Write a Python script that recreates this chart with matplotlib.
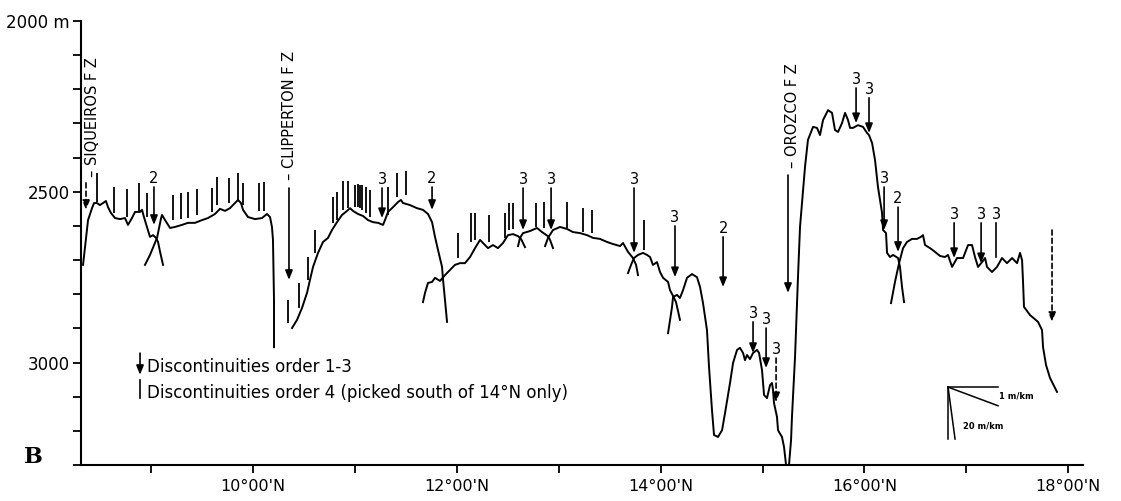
import matplotlib
matplotlib.use("Agg")
import matplotlib.pyplot as plt
import numpy as np

# ---------------- data: bathymetric profile segments (latitude °N, depth m) -------------
seg1a_lat = [8.332, 8.381, 8.420, 8.440, 8.469, 8.498, 8.528, 8.557, 8.577, 8.606, 8.646, 8.695, 8.744,
             8.773, 8.812, 8.842, 8.891, 8.911, 8.930, 8.959, 8.989, 9.019, 9.048, 9.068, 9.088, 9.117]
seg1a_depth = [2714, 2583, 2548, 2533, 2533, 2539, 2533, 2527, 2545, 2562, 2577, 2580, 2577,
               2597, 2577, 2559, 2559, 2553, 2574, 2603, 2632, 2627, 2635, 2647, 2676, 2714]

seg1b_lat = [8.940, 8.989, 9.029, 9.058, 9.078, 9.098, 9.107, 9.137, 9.186, 9.235, 9.303, 9.362, 9.431,
             9.499, 9.558, 9.627, 9.676, 9.725, 9.774, 9.823, 9.853, 9.882, 9.902, 9.951, 10.020, 10.088,
             10.137, 10.167, 10.186, 10.196, 10.206, 10.206]
seg1b_depth = [2714, 2685, 2656, 2635, 2606, 2577, 2568, 2583, 2606, 2603, 2597, 2591, 2591,
               2583, 2577, 2565, 2550, 2556, 2548, 2533, 2524, 2533, 2553, 2574, 2580, 2577,
               2565, 2574, 2603, 2641, 2817, 2955]

seg2_lat = [10.383, 10.432, 10.481, 10.530, 10.559, 10.589, 10.638, 10.687, 10.736, 10.775, 10.824,
            10.873, 10.923, 10.952, 10.981, 11.030, 11.080, 11.129, 11.178, 11.227, 11.276, 11.295,
            11.325, 11.374, 11.423, 11.452, 11.472, 11.541, 11.609, 11.668, 11.717, 11.757, 11.786,
            11.816, 11.855, 11.865, 11.884, 11.904]
seg2_depth = [2899, 2875, 2840, 2796, 2758, 2720, 2679, 2647, 2635, 2612, 2589,
              2568, 2556, 2548, 2556, 2565, 2571, 2583, 2589, 2591, 2597, 2583,
              2559, 2545, 2530, 2524, 2533, 2539, 2548, 2553, 2565, 2589, 2632,
              2671, 2720, 2758, 2817, 2881]

seg3a_lat = [11.668, 11.688, 11.717, 11.757, 11.786, 11.835, 11.884, 11.933, 11.982, 12.031, 12.080,
             12.130, 12.179, 12.228, 12.257, 12.306, 12.355, 12.404, 12.453, 12.502, 12.552, 12.601,
             12.630, 12.669]
seg3a_depth = [2823, 2796, 2767, 2764, 2752, 2761, 2744, 2729, 2714, 2709, 2709,
               2691, 2665, 2641, 2650, 2665, 2656, 2665, 2650, 2627, 2624, 2630,
               2638, 2662]

seg3b_lat = [12.601, 12.620, 12.650, 12.718, 12.787, 12.836, 12.895, 12.915, 12.944]
seg3b_depth = [2659, 2635, 2621, 2615, 2606, 2618, 2630, 2641, 2665]

seg3c_lat = [12.866, 12.895, 12.944, 13.013, 13.082, 13.140, 13.209, 13.278, 13.337, 13.405, 13.474,
             13.533, 13.602, 13.631, 13.680, 13.729, 13.759, 13.778]
seg3c_depth = [2659, 2635, 2612, 2603, 2609, 2618, 2621, 2627, 2635, 2638, 2647,
               2653, 2659, 2650, 2676, 2694, 2714, 2744]

seg3d_lat = [13.680, 13.710, 13.739, 13.778, 13.827, 13.867, 13.896, 13.925, 13.965, 13.994, 14.024,
             14.073, 14.092, 14.122, 14.151, 14.190]
seg3d_depth = [2738, 2714, 2694, 2685, 2679, 2685, 2691, 2714, 2706, 2735, 2752,
               2764, 2788, 2805, 2823, 2875]

seg4_lat = [14.073, 14.112, 14.122, 14.161, 14.190, 14.220, 14.259, 14.308, 14.357, 14.387,
            14.416, 14.455, 14.475, 14.504, 14.524, 14.563, 14.603, 14.632, 14.681, 14.711,
            14.750, 14.779, 14.809, 14.828, 14.848, 14.877, 14.907, 14.946, 14.966, 14.995,
            15.015, 15.044, 15.074, 15.093, 15.103, 15.113, 15.142, 15.152, 15.191, 15.211,
            15.231, 15.260, 15.280, 15.289, 15.319, 15.348, 15.368, 15.417, 15.446, 15.496,
            15.535, 15.564, 15.594, 15.643, 15.682, 15.711, 15.741, 15.780, 15.810, 15.839,
            15.859, 15.888, 15.937, 15.986, 16.026, 16.045, 16.075, 16.104, 16.133, 16.173,
            16.183, 16.212, 16.222, 16.251, 16.281, 16.330, 16.349, 16.369, 16.389]
seg4_depth = [2914, 2837, 2808, 2802, 2811, 2788, 2752, 2741, 2750, 2779,
              2826, 2905, 3013, 3139, 3212, 3218, 3198, 3148, 3060, 3001,
              2963, 2957, 2972, 2993, 2978, 2990, 2972, 2963, 2972, 3022,
              3095, 3104, 3066, 3060, 3080, 3119, 3159, 3198, 3218, 3247,
              3300, 3300, 3227, 3159, 2984, 2750, 2603, 2427, 2348, 2310,
              2313, 2334, 2290, 2261, 2269, 2319, 2325, 2299, 2269, 2290,
              2313, 2313, 2305, 2310, 2328, 2334, 2357, 2407, 2486, 2562,
              2612, 2621, 2679, 2691, 2685, 2694, 2720, 2779, 2823]

seg5_lat = [16.261, 16.300, 16.340, 16.379, 16.418, 16.467, 16.516, 16.555, 16.575, 16.595,
            16.644, 16.693, 16.742, 16.791, 16.820, 16.860, 16.909, 16.968, 17.017, 17.056,
            17.085, 17.115, 17.154, 17.184, 17.203, 17.252, 17.301, 17.350, 17.399, 17.449,
            17.498, 17.527, 17.547, 17.557, 17.566, 17.625, 17.704, 17.743, 17.753, 17.782,
            17.821, 17.890]
seg5_depth = [2826, 2764, 2709, 2665, 2647, 2638, 2638, 2632, 2627, 2656,
              2665, 2676, 2688, 2691, 2685, 2720, 2694, 2694, 2656, 2656,
              2691, 2720, 2706, 2694, 2720, 2735, 2720, 2694, 2709, 2694,
              2709, 2679, 2700, 2767, 2837, 2861, 2881, 2905, 2955, 3007,
              3045, 3086]

# ---------------- discontinuities of order 1-3 (arrows) ----------------
arrow_lat = [8.361, 9.028, 10.353, 11.266, 11.757, 12.650, 12.925, 13.739, 14.141, 14.613, 15.250,
             14.907, 15.035, 15.133, 15.918, 16.045, 16.193, 16.330, 16.880, 17.145, 17.292, 17.841]
arrow_top = [2474, 2486, 2489, 2489, 2486, 2489, 2489, 2489, 2600, 2632, 2451,
             2881, 2899, 2987, 2196, 2225, 2486, 2545, 2591, 2591, 2591, 2612]
arrow_bottom = [2553, 2597, 2758, 2577, 2553, 2612, 2612, 2679, 2750, 2779, 2796,
                2972, 3016, 3116, 2299, 2328, 2612, 2676, 2694, 2709, 2691, 2881]
arrow_order = ['', '2', '', '3', '2', '3', '3', '3', '3', '2', '',
               '3', '3', '3', '3', '3', '3', '2', '3', '3', '3', '']

# ---------------- discontinuities of order 4 (plain bars) ----------------
o4_lat = [8.469, 8.636, 8.763, 8.881, 8.960, 9.215, 9.293, 9.362, 9.450, 9.598, 9.647, 9.764, 9.853,
          9.902, 10.059, 10.108, 10.343, 10.451, 10.540, 10.608, 10.785, 10.824, 10.883, 10.932,
          11.001, 11.030, 11.050, 11.070, 11.109, 11.148, 11.325, 11.413, 11.502, 12.012, 12.139,
          12.179, 12.316, 12.473, 12.512, 12.552, 12.777, 12.856, 13.082, 13.239, 13.327, 13.837]
o4_top = [2445, 2486, 2492, 2474, 2504, 2509, 2504, 2501, 2492, 2489, 2457, 2460, 2445,
          2474, 2474, 2471, 2817, 2767, 2691, 2612, 2515, 2501, 2468, 2468,
          2480, 2477, 2480, 2480, 2486, 2495, 2486, 2445, 2439, 2621, 2562,
          2562, 2568, 2562, 2533, 2533, 2533, 2530, 2530, 2548, 2553, 2583]
o4_bottom = [2530, 2562, 2574, 2559, 2574, 2583, 2580, 2577, 2568, 2559, 2539, 2533, 2524,
             2539, 2556, 2556, 2884, 2840, 2758, 2679, 2591, 2583, 2553, 2548,
             2545, 2545, 2548, 2553, 2562, 2574, 2568, 2515, 2509, 2694, 2647,
             2641, 2647, 2635, 2612, 2609, 2603, 2606, 2606, 2618, 2621, 2671]

# ---------------- fracture zones ----------------
fz_names = ['SIQUEIROS F Z', 'CLIPPERTON F Z', 'OROZCO F Z']
fz_lat = [8.420, 10.360, 15.290]
fz_label_bottom = [2457, 2466, 2430]

# axis ticks
lat_major = [10, 12, 14, 16, 18]
lat_labels = ["10°00'N", "12°00'N", "14°00'N", "16°00'N", "18°00'N"]
lat_minor = [9, 11, 13, 15, 17]
depth_major = [2000, 2500, 3000]
depth_labels = ['2000 m', '2500', '3000']

# slope scale (m/km)
scale_slopes = [1, 20]

segments = [(seg1a_lat, seg1a_depth), (seg1b_lat, seg1b_depth), (seg2_lat, seg2_depth),
            (seg3a_lat, seg3a_depth), (seg3b_lat, seg3b_depth), (seg3c_lat, seg3c_depth),
            (seg3d_lat, seg3d_depth), (seg4_lat, seg4_depth), (seg5_lat, seg5_depth)]

# ---------------- drawing ----------------
plt.rcParams['font.family'] = ['DejaVu Sans']
W, H = 1121, 501
fig = plt.figure(figsize=(W / 100, H / 100), dpi=100)
ax = fig.add_axes([81 / W, 1 - 465 / H, 1002 / W, 444 / H])
ax.set_xlim(8.312, 18.145)
ax.set_ylim(3300, 2000)

for la, de in segments:
    ax.plot(la, de, color='black', lw=1.4, solid_joinstyle='round')

dashed = {0, 13, 21}
headless = {20}
for i, (la, t, b, lab) in enumerate(zip(arrow_lat, arrow_top, arrow_bottom, arrow_order)):
    ls = (0, (3, 2)) if i in dashed else '-'
    if i in headless:
        ax.plot([la, la], [t, b], color='black', lw=1.2)
    else:
        ax.annotate('', xy=(la, b), xytext=(la, t),
                    arrowprops=dict(arrowstyle='-|>,head_length=0.55,head_width=0.22',
                                    lw=1.2, color='black', linestyle=ls,
                                    shrinkA=0, shrinkB=0, mutation_scale=10))
    if lab:
        ax.annotate(lab, xy=(la, t), xytext=(0, 0.5), textcoords='offset points',
                    ha='center', va='bottom', fontsize=10.5)

ax.vlines(o4_lat, o4_top, o4_bottom, color='black', lw=1.3)

for name, la, bot in zip(fz_names, fz_lat, fz_label_bottom):
    ax.text(la, bot, '– ' + name, rotation=90, ha='center', va='bottom', fontsize=10.5)

# legend
lx = 0.0589
ax.annotate('', xy=(lx, 0.203), xytext=(lx, 0.252), xycoords='axes fraction',
            arrowprops=dict(arrowstyle='-|>,head_length=0.55,head_width=0.22', lw=1.2,
                            color='black', shrinkA=0, shrinkB=0, mutation_scale=10))
ax.plot([lx, lx], [0.151, 0.191], transform=ax.transAxes, color='black', lw=1.2)
ax.text(0.0659, 0.2207, 'Discontinuities order 1-3', transform=ax.transAxes,
        va='center', ha='left', fontsize=12)
ax.text(0.0659, 0.162, 'Discontinuities order 4 (picked south of 14°N only)',
        transform=ax.transAxes, va='center', ha='left', fontsize=12)

# slope scale diagram
km_per_deg = 111.2
c_lat, c_dep = 16.821, 3072
h_len = 0.49
v_len = 152
ax.plot([c_lat, c_lat + h_len], [c_dep, c_dep], color='black', lw=1.1)
ax.plot([c_lat, c_lat + h_len], [c_dep, c_dep + scale_slopes[0] * h_len * km_per_deg],
        color='black', lw=1.1)
ax.plot([c_lat, c_lat], [c_dep, c_dep + v_len], color='black', lw=1.1)
ax.plot([c_lat, c_lat + v_len / scale_slopes[1] / km_per_deg], [c_dep, c_dep + v_len],
        color='black', lw=1.1)
ax.text(c_lat + h_len + 0.01, c_dep + 26, f'{scale_slopes[0]} m/km', fontsize=6,
        fontweight='bold', va='center', ha='left')
ax.text(c_lat + 0.15, c_dep + 114, f'{scale_slopes[1]} m/km', fontsize=6,
        fontweight='bold', va='center', ha='left')

# axes styling
for s in ['top', 'right']:
    ax.spines[s].set_visible(False)
ax.spines['left'].set_linewidth(1.5)
ax.spines['bottom'].set_linewidth(1.5)
ax.set_xticks(lat_major)
ax.set_xticklabels(lat_labels)
ax.set_xticks(lat_minor, minor=True)
ax.set_yticks(depth_major)
ax.set_yticklabels(depth_labels)
ax.set_yticks([d for d in range(2100, 3301, 100) if d not in depth_major], minor=True)
ax.tick_params(axis='both', which='both', direction='out', length=6, width=1.3,
               color='black')
ax.tick_params(axis='x', labelsize=11.5, pad=4)
ax.tick_params(axis='y', labelsize=12, pad=2)

fig.text(33 / W, 1 - 457 / H, 'B', fontsize=16, fontweight='bold',
         family='DejaVu Serif', ha='center', va='center')

fig.savefig('out.png', dpi=100)
